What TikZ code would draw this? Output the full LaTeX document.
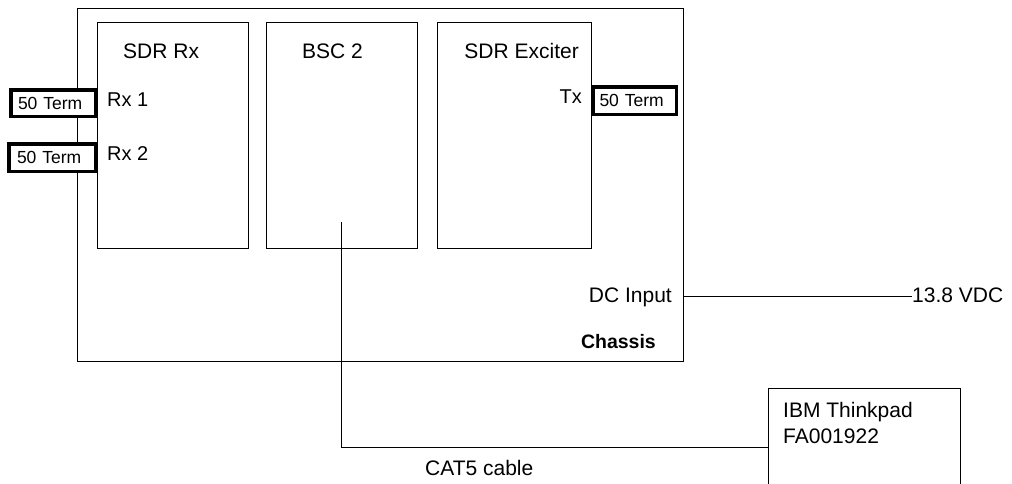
\documentclass[tikz,border=0pt]{standalone}
\usepackage{fontspec}
\setmainfont{Liberation Sans}
\usetikzlibrary{positioning}

\tikzset{
  unit/.style={draw, line width=1pt, fill=white, anchor=north west, inner sep=0pt},
  term/.style={draw, line width=3.5pt, fill=white, text width=70pt, align=left, inner xsep=6.5pt, inner ysep=0pt, font=\fontsize{17.5}{19}\selectfont},
  lbl/.style={inner sep=0pt, font=\fontsize{21}{24}\selectfont},
  wire/.style={line width=1pt}
}

\begin{document}
\begin{tikzpicture}[x=1pt, y=-1pt]
  \useasboundingbox (0,0) rectangle (1012,483);

  % Chassis and the three units
  \node[unit, minimum width=606pt, minimum height=353pt] (chassis) at (77,8) {};
  \node[unit, minimum width=151pt, minimum height=226pt] (sdrrx) at (97,22) {};
  \node[unit, minimum width=151pt, minimum height=226pt] (bsc) at (266,22) {};
  \node[unit, minimum width=154pt, minimum height=226pt] (exciter) at (437,22) {};

  \node[lbl, anchor=base west] (sdrrxlbl) at (123,58) {SDR Rx};
  \node[lbl, anchor=base west] (bsclbl) at (302,58) {BSC 2};
  \node[lbl, anchor=base east] (exciterlbl) at (579,58) {SDR Exciter};

  % Ports and terminations
  \node[lbl, anchor=base west, font=\fontsize{20}{22}\selectfont] (rx1) at (107,106) {Rx 1};
  \node[lbl, anchor=base west, font=\fontsize{20}{22}\selectfont] (rx2) at (107,160) {Rx 2};
  \node[lbl, anchor=base east, font=\fontsize{20}{22}\selectfont] (tx) at (582,103) {Tx};
  \node[term, minimum width=84.5pt, minimum height=26.5pt] (term1) at (53,103) {50 Term};
  \node[term, minimum width=86.5pt, minimum height=27.5pt] (term2) at (52,157.5) {50 Term};
  \node[term, minimum width=83.5pt, minimum height=27.5pt] (term3) at (634.5,100.5) {50 Term};

  % Power
  \node[lbl, anchor=base east] (dcin) at (672,302) {DC Input};
  \node[lbl, anchor=base west] (vdc) at (912,302) {13.8 VDC};
  \draw[wire] (dcin.east -| chassis.east) -- (dcin.east -| vdc.west);
  \node[lbl, anchor=base east, font=\fontsize{19.5}{22}\selectfont\bfseries] (chassislbl) at (656,348) {Chassis};

  % Laptop and CAT5 link
  \node[unit, minimum width=192pt, minimum height=118pt] (thinkpad) at (768,388) {};
  \node[lbl, anchor=base west] (ibm) at (783,417) {IBM Thinkpad};
  \node[lbl, anchor=base west] (fa) at (783,443) {FA001922};
  \coordinate (bscport) at (341,222);
  \draw[wire] (bscport) |- (thinkpad.west);
  \node[lbl, anchor=base west] (cat5) at (425,475) {CAT5 cable};
\end{tikzpicture}
\end{document}
